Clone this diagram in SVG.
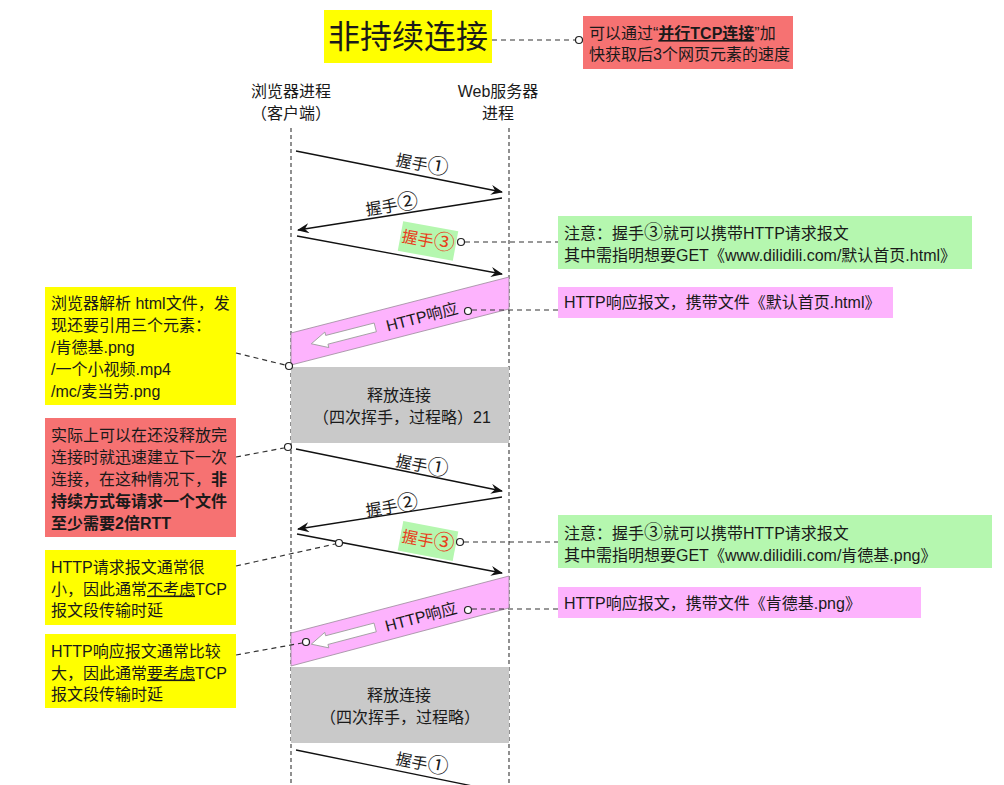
<svg xmlns="http://www.w3.org/2000/svg" width="1004" height="785" viewBox="0 0 1004 785">
<defs>
<style>
text{font-family:"Liberation Sans","Noto Sans CJK SC",sans-serif;font-size:16px;fill:#1a1a1a}
.cjk{font-family:"Noto Sans CJK SC","Liberation Sans",sans-serif}
.c{font-family:"Noto Sans CJK SC","DejaVu Sans",sans-serif;font-size:21px}
.mid{text-anchor:middle}
.life{stroke:#555;stroke-width:1.3;stroke-dasharray:4 3;fill:none}
.msg{stroke:#111;stroke-width:1.3;fill:none;marker-end:url(#ah)}
.dash{stroke:#333;stroke-width:1.2;stroke-dasharray:5 4;fill:none}
.dot{fill:#fff;stroke:#222;stroke-width:1.2}
.yellow{fill:#ffff00}
.red{fill:#f67272}
.green{fill:#b5f7af}
.pink{fill:#fdb3fd}
.gray{fill:#c9c9c9}
.para{fill:#fdb3fd;stroke:#9a8a9a;stroke-width:0.8}
.warr{fill:#fff;stroke:#999;stroke-width:0.8}
.hs3{fill:#e8401c;font-size:16px}
.b{font-weight:bold}
.u{text-decoration:underline}
</style>
<marker id="ah" viewBox="0 0 12 10" refX="11" refY="5" markerWidth="12" markerHeight="10" markerUnits="userSpaceOnUse" orient="auto">
<path d="M0,0 L12,5 L0,10 L4,5 Z" fill="#111"/>
</marker>
<path id="warrow" d="M21,0 L37,-8 L37,-4.5 L87,-4.5 L87,4.5 L37,4.5 L37,8 Z"/>
</defs>
<rect width="1004" height="785" fill="#fff"/>

<g id="lifelines">
<line class="life" x1="291" y1="128" x2="291" y2="785"/>
<line class="life" x1="509" y1="128" x2="509" y2="785"/>
</g>

<g id="title">
<rect class="yellow" x="324" y="10" width="168" height="53"/>
<text class="mid" x="408" y="48" style="font-size:32px">非持续连接</text>
</g>

<g id="note-parallel">
<rect class="red" x="583" y="16" width="210" height="53"/>
<text x="589" y="39">可以通过“<tspan class="b u">并行TCP连接</tspan>”加</text>
<text x="589" y="60">快获取后3个网页元素的速度</text>
</g>

<g id="client-header">
<text class="mid" x="291" y="97">浏览器进程</text>
<text class="mid" x="291" y="119">（客户端）</text>
</g>
<g id="server-header">
<text class="mid" x="498" y="97">Web服务器</text>
<text class="mid" x="498" y="119">进程</text>
</g>

<g id="http-resp-1">
<polygon class="para" points="291,333 509,277 509,309 291,365"/>
<use href="#warrow" class="warr" transform="translate(291,349) rotate(-14.4)"/>
<text class="mid" transform="translate(422,317) rotate(-14.4)" y="5.5">HTTP响应</text>
</g>

<g id="release-1">
<rect class="gray" x="291" y="367" width="218" height="76"/>
<text class="mid" x="399" y="401">释放连接</text>
<text class="mid" x="402" y="423">（四次挥手，过程略）21</text>
</g>

<g id="http-resp-2">
<polygon class="para" points="291,633 509,576 509,608 291,666"/>
<use href="#warrow" class="warr" transform="translate(291,649.5) rotate(-14.7)"/>
<text class="mid" transform="translate(421,617) rotate(-14.7)" y="5.5">HTTP响应</text>
</g>

<g id="release-2">
<rect class="gray" x="291" y="667" width="218" height="76"/>
<text class="mid" x="399" y="701">释放连接</text>
<text class="mid" x="400" y="723">（四次挥手，过程略）</text>
</g>

<g id="note-browser">
<rect class="yellow" x="45" y="287" width="191" height="118"/>
<text x="51" y="309">浏览器解析 html文件，发</text>
<text x="51" y="331">现还要引用三个元素：</text>
<text x="51" y="353">/肯德基.png</text>
<text x="51" y="375">/一个小视频.mp4</text>
<text x="51" y="397">/mc/麦当劳.png</text>
</g>

<g id="note-2rtt">
<rect class="red" x="45" y="418" width="191" height="119"/>
<text x="51" y="441">实际上可以在还没释放完</text>
<text x="51" y="463">连接时就迅速建立下一次</text>
<text x="51" y="485">连接，在这种情况下，<tspan class="b">非</tspan></text>
<text x="51" y="507" class="b">持续方式每请求一个文件</text>
<text x="51" y="529" class="b">至少需要2倍RTT</text>
</g>

<g id="note-req-small">
<rect class="yellow" x="45" y="550" width="191" height="75"/>
<text x="51" y="573">HTTP请求报文通常很</text>
<text x="51" y="594.5">小，因此通常<tspan class="u">不考虑</tspan>TCP</text>
<text x="51" y="616">报文段传输时延</text>
</g>

<g id="note-resp-large">
<rect class="yellow" x="45" y="634" width="191" height="74"/>
<text x="51" y="657">HTTP响应报文通常比较</text>
<text x="51" y="678.5">大，因此通常<tspan class="u">要考虑</tspan>TCP</text>
<text x="51" y="700">报文段传输时延</text>
</g>

<g id="note-get-1">
<rect class="green" x="558" y="216" width="414" height="53"/>
<text x="564" y="239">注意：握手<tspan class="c" style="font-size:19px">③</tspan>就可以携带HTTP请求报文</text>
<text x="564" y="261">其中需指明想要GET《www.dilidili.com/默认首页.html》</text>
</g>
<g id="note-resp-1">
<rect class="pink" x="558" y="287" width="335" height="31"/>
<text x="564" y="308">HTTP响应报文，携带文件《默认首页.html》</text>
</g>
<g id="note-get-2">
<rect class="green" x="558" y="515" width="434" height="53"/>
<text x="564" y="539">注意：握手<tspan class="c" style="font-size:19px">③</tspan>就可以携带HTTP请求报文</text>
<text x="564" y="561">其中需指明想要GET《www.dilidili.com/肯德基.png》</text>
</g>
<g id="note-resp-2">
<rect class="pink" x="558" y="587" width="363" height="31"/>
<text x="564" y="609">HTTP响应报文，携带文件《肯德基.png》</text>
</g>

<g id="connectors">
<line class="dash" x1="492" y1="40" x2="575" y2="40"/>
<circle class="dot" cx="579" cy="40" r="3.5"/>

<line class="msg" x1="296" y1="151" x2="502" y2="192"/>
<text class="mid cjk" transform="translate(422,165) rotate(11.3)" y="5.5">握手<tspan class="c">①</tspan></text>
<line class="msg" x1="502" y1="198" x2="298" y2="230"/>
<text class="mid cjk" transform="translate(392,206) rotate(-8.9)" y="5.5">握手<tspan class="c">②</tspan></text>
<line class="msg" x1="297" y1="236" x2="502" y2="274"/>
<g transform="translate(428,241) rotate(10.5)">
<rect class="green" x="-28" y="-15" width="56" height="30"/>
<text class="mid hs3 cjk" y="5.5">握手<tspan class="c">③</tspan></text>
</g>
<line class="dash" x1="465" y1="242" x2="558" y2="242"/>
<circle class="dot" cx="461" cy="242" r="3.5"/>

<line class="dash" x1="472" y1="310" x2="558" y2="310"/>
<circle class="dot" cx="468" cy="311" r="3.5"/>
<line class="dash" x1="236" y1="353" x2="285" y2="365"/>
<circle class="dot" cx="289" cy="366" r="3.5"/>

<line class="dash" x1="236" y1="457" x2="284" y2="448"/>
<circle class="dot" cx="288" cy="447" r="3.5"/>

<line class="msg" x1="296" y1="449" x2="502" y2="491"/>
<text class="mid cjk" transform="translate(422,466) rotate(11.5)" y="5.5">握手<tspan class="c">①</tspan></text>
<line class="msg" x1="502" y1="497" x2="298" y2="529"/>
<text class="mid cjk" transform="translate(392,507) rotate(-8.9)" y="5.5">握手<tspan class="c">②</tspan></text>
<line class="msg" x1="297" y1="534" x2="502" y2="573"/>
<g transform="translate(428,541) rotate(10.8)">
<rect class="green" x="-28" y="-15" width="56" height="30"/>
<text class="mid hs3 cjk" y="5.5">握手<tspan class="c">③</tspan></text>
</g>
<line class="dash" x1="464" y1="542" x2="558" y2="542"/>
<circle class="dot" cx="460" cy="542" r="3.5"/>
<line class="dash" x1="236" y1="566" x2="335" y2="544"/>
<circle class="dot" cx="339" cy="543" r="3.5"/>

<line class="dash" x1="472" y1="609" x2="558" y2="609"/>
<circle class="dot" cx="468" cy="610" r="3.5"/>
<line class="dash" x1="236" y1="655" x2="302" y2="643"/>
<circle class="dot" cx="306" cy="642" r="3.5"/>

<line class="msg" x1="296" y1="750" x2="502" y2="792"/>
<text class="mid cjk" transform="translate(422,764) rotate(11.5)" y="5.5">握手<tspan class="c">①</tspan></text>
</g>
</svg>
